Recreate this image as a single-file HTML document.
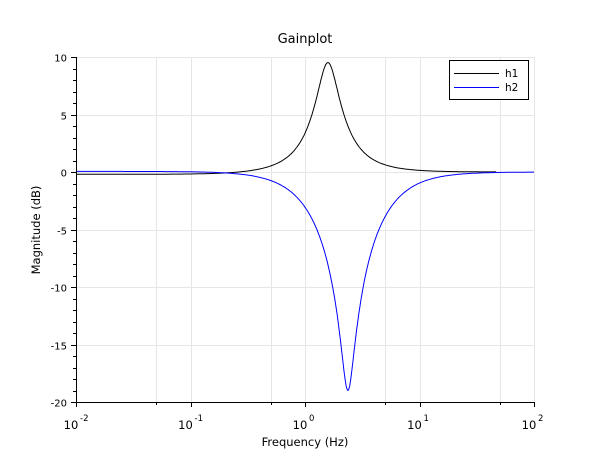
<!DOCTYPE html>
<html><head><style>
body{margin:0;background:#fff;}
svg{display:block;font-family:"DejaVu Sans","Liberation Sans",sans-serif;}
</style></head><body>
<svg id="s" width="610" height="460" xmlns="http://www.w3.org/2000/svg">
<rect width="610" height="460" fill="#fff"/>
<g id="grid" stroke="#e6e6e6" stroke-width="1"></g>
<g id="curves" fill="none" stroke-width="1"></g>
<g id="axes" stroke="#000" stroke-width="1"></g>
<g id="labels" font-size="10" fill="#000"></g>
<text x="305" y="43" font-size="13" text-anchor="middle">Gainplot</text>
<text x="305" y="446" font-size="11.5" text-anchor="middle">Frequency (Hz)</text>
<text transform="translate(40,230) rotate(-90)" font-size="11.5" text-anchor="middle">Magnitude (dB)</text>
<rect x="449.5" y="60.5" width="79" height="39" fill="#fff" stroke="#000"/>
<line x1="454" y1="73.5" x2="499" y2="73.5" stroke="#000"/>
<line x1="454" y1="87.5" x2="499" y2="87.5" stroke="#00f"/>
<text x="505" y="77" font-size="10.5">h1</text>
<text x="505" y="91" font-size="10.5">h2</text>
</svg>
<script>
var L=76,R=534,T=57,B=402,dec=(R-L)/4;
function X(lf){return L+(lf+2)*dec;}
function Y(db){return T+(10-db)*(B-T)/30;}
var ns="http://www.w3.org/2000/svg";
function el(p,t,a,txt){var e=document.createElementNS(ns,t);for(var k in a)e.setAttribute(k,a[k]);if(txt!==undefined)e.textContent=txt;document.getElementById(p).appendChild(e);return e;}
for(var d=-2;d<=2;d++){
 var x=Math.round(X(d))+.5; el("grid","line",{x1:x,y1:T,x2:x,y2:B});
 if(d<2){var x5=Math.round(X(d+Math.log10(5)))+.5;el("grid","line",{x1:x5,y1:T,x2:x5,y2:B});
  el("axes","line",{x1:x5,y1:B,x2:x5,y2:B+3});}
 el("axes","line",{x1:x,y1:B,x2:x,y2:B+5});
 el("labels","text",{x:X(d)-5,y:B+27,"text-anchor":"middle","font-size":"11.5"},"10");
 el("labels","text",{x:X(d)+4,y:B+19,"font-size":"8.5"},String(d));
}
for(var v=-20;v<=10;v++){
 var y=Math.round(Y(v))+.5;
 if(v%5==0){el("grid","line",{x1:L,y1:y,x2:R,y2:y});el("axes","line",{x1:L-5,y1:y,x2:L,y2:y});
  el("labels","text",{x:L-9,y:y+4,"text-anchor":"end"},String(v));}
 else el("axes","line",{x1:L-3,y1:y,x2:L,y2:y});
}
el("axes","line",{x1:L+.5,y1:T,x2:L+.5,y2:B+.5});
el("axes","line",{x1:L,y1:B+.5,x2:R,y2:B+.5});
function g(f,w0,zn,zd){var r=f/w0,a=1-r*r;return 10*Math.log10((a*a+Math.pow(2*zn*r,2))/(a*a+Math.pow(2*zd*r,2)));}
var p1=[],p2=[];
for(var i=0;i<=400;i++){var lf=-2+4*i/400,f=Math.pow(10,lf);
 var h1=g(f,1.585,0.6,0.2)-0.2/(1+f*f*4);
 var h2=g(f,2.37,0.112,1.0)+0.05/(1+f*f*4);
 if(lf<=1.68)p1.push(X(lf).toFixed(1)+","+Y(h1).toFixed(1));
 p2.push(X(lf).toFixed(1)+","+Y(h2).toFixed(1));}
el("curves","polyline",{points:p1.join(" "),stroke:"#000"});
el("curves","polyline",{points:p2.join(" "),stroke:"#00f"});
</script>
</body></html>
